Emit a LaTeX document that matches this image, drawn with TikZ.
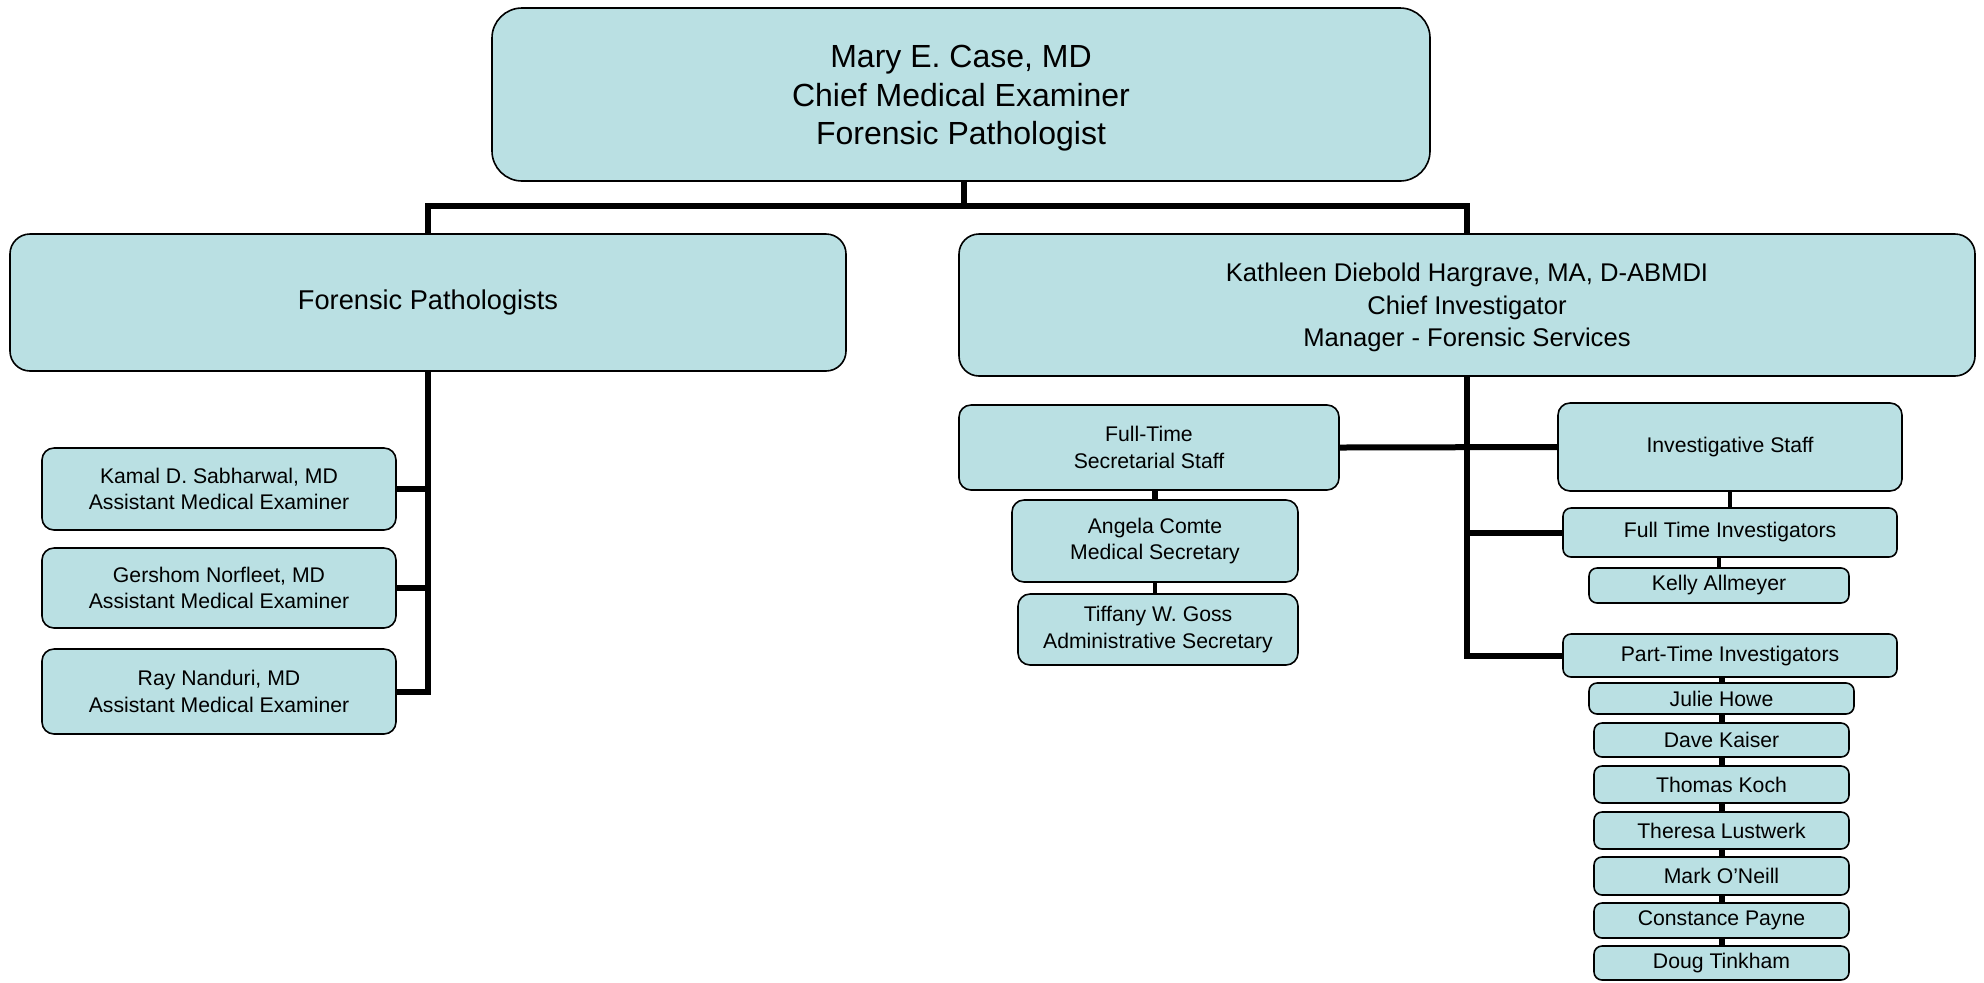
\documentclass[tikz,border=0pt]{standalone}
\usepackage{fontspec}
\setmainfont{Liberation Sans}
\definecolor{boxfill}{RGB}{186,224,227}
\begin{document}
\begin{tikzpicture}[x=0.5pt,y=-0.5pt,
  base/.style={draw=black, line width=0.8pt, fill=boxfill, align=center, inner sep=0pt},
  bigbox/.style={base, rounded corners=15pt},
  bigtext/.style={align=center, inner sep=0pt, font=\fontsize{16}{19.3}\selectfont},
  midbox/.style={base, rounded corners=10pt, font=\fontsize{13.6}{16.3}\selectfont},
  midtext/.style={align=center, inner sep=0pt, font=\fontsize{12.8}{16.1}\selectfont},
  smallbox/.style={base, rounded corners=6pt, font=\fontsize{10.6}{13.3}\selectfont},
  namebox/.style={base, rounded corners=4pt, font=\fontsize{10.6}{13.3}\selectfont},
  conn/.style={draw=black, line width=3pt},
  thin/.style={draw=black, line width=2.2pt}]
\useasboundingbox (0,0) rectangle (1984,982);
\node[bigbox, minimum width=469pt, minimum height=86.5pt] (top) at (961,94.5) {};
\node[bigtext] (toptext) at ([yshift=-2pt]top.center)
  {Mary E. Case, MD\\Chief Medical Examiner\\Forensic Pathologist};
\node[midbox, minimum width=418pt, minimum height=68.5pt] (fp) at (428,302.5) {Forensic Pathologists};
\node[midbox, minimum width=508pt, minimum height=71pt] (kath) at (1467,305) {};
\node[midtext] (kathtext) at ([yshift=-1.2pt]kath.center)
  {Kathleen Diebold Hargrave, MA, D-ABMDI\\Chief Investigator\\Manager - Forensic Services};
\node[smallbox, minimum width=177pt, minimum height=41pt] (kamal) at (219,489) {Kamal D. Sabharwal, MD\\Assistant Medical Examiner};
\node[smallbox, minimum width=177pt, minimum height=40pt] (gershom) at (219,588) {Gershom Norfleet, MD\\Assistant Medical Examiner};
\node[smallbox, minimum width=177pt, minimum height=42.5pt] (ray) at (219,691.5) {Ray Nanduri, MD\\Assistant Medical Examiner};
\node[smallbox, minimum width=190pt, minimum height=42.5pt] (fts) at (1149,447.5) {Full-Time\\Secretarial Staff};
\node[smallbox, minimum width=143pt, minimum height=41pt] (angela) at (1155,541) {Angela Comte\\Medical Secretary};
\node[smallbox, minimum width=140pt, minimum height=35.5pt] (tiffany) at (1158,629.5) {Tiffany W. Goss\\Administrative Secretary};
\node[smallbox, minimum width=172pt, minimum height=44pt] (inv) at (1730,447) {Investigative Staff};
\node[namebox, minimum width=167pt, minimum height=24.5pt] (fti) at (1730,532.5) {Full Time Investigators};
\node[namebox, minimum width=130pt, minimum height=17.5pt] (kelly) at (1719,585.5) {Kelly Allmeyer};
\node[namebox, minimum width=167pt, minimum height=21.5pt] (pti) at (1730,655.5) {Part-Time Investigators};
\node[namebox, minimum width=132.5pt, minimum height=15.5pt] (julie) at (1721.5,698.5) {Julie Howe};
\node[namebox, minimum width=127.5pt, minimum height=17pt] (dave) at (1721.5,740) {Dave Kaiser};
\node[namebox, minimum width=127.5pt, minimum height=18.5pt] (thomas) at (1721.5,784.5) {Thomas Koch};
\node[namebox, minimum width=127.5pt, minimum height=18.5pt] (theresa) at (1721.5,830.5) {Theresa Lustwerk};
\node[namebox, minimum width=127.5pt, minimum height=19pt] (mark) at (1721.5,876) {Mark O'Neill};
\node[namebox, minimum width=127.5pt, minimum height=17.5pt] (constance) at (1721.5,920.5) {Constance Payne};
\node[namebox, minimum width=127.5pt, minimum height=17pt] (doug) at (1721.5,963) {Doug Tinkham};
\coordinate (bus) at (964,206);
% connectors
\draw[conn] (bus |- top.south) -- (bus);
\draw[conn] (fp.north) |- (bus) -| (kath.north);
\draw[conn] (fp.south) |- (ray.east);
\draw[conn] (kamal.east) -- (kamal.east -| fp.south);
\draw[conn] (gershom.east) -- (gershom.east -| fp.south);
\draw[conn] (kath.south) |- (pti.west);
\draw[conn] (fti.west) -- (fti.west -| kath.south);
\draw[conn] (fts.east) -- (inv.west);
\draw[thin] (inv.south) -- (fti.north);
\draw[thin] (kelly.north |- fti.south) -- (kelly.north);
\draw[conn] (angela.north |- fts.south) -- (angela.north);
\draw[thin] (tiffany.north -| angela.south) -- (angela.south);
\draw[conn] (julie.north |- pti.south) -- (julie.north);
\draw[conn] (julie.south) -- (dave.north);
\draw[conn] (dave.south) -- (thomas.north);
\draw[conn] (thomas.south) -- (theresa.north);
\draw[conn] (theresa.south) -- (mark.north);
\draw[conn] (mark.south) -- (constance.north);
\draw[conn] (constance.south) -- (doug.north);
\end{tikzpicture}
\end{document}
